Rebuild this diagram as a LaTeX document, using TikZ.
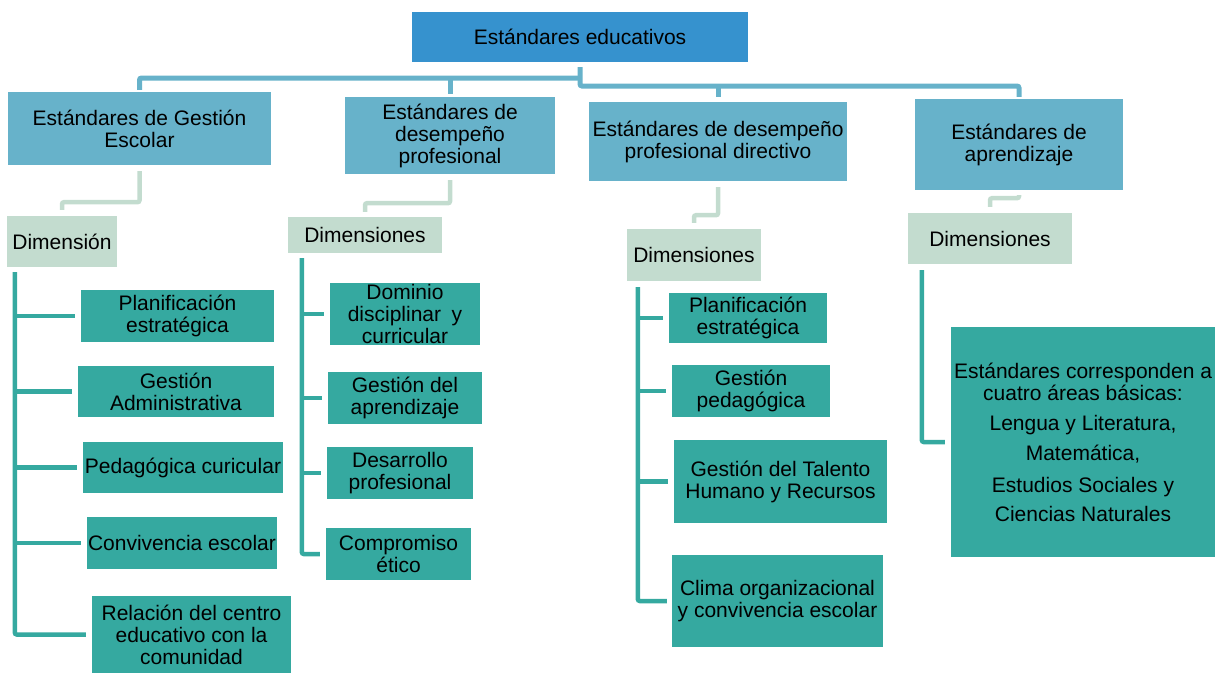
\documentclass[tikz,border=0pt]{standalone}
\usepackage{fontspec}
\setmainfont{Liberation Sans}
\usetikzlibrary{calc}
\definecolor{topblue}{RGB}{54,146,206}
\definecolor{lblue}{RGB}{103,178,202}
\definecolor{dimgreen}{RGB}{195,220,207}
\definecolor{tealc}{RGB}{53,169,160}
\begin{document}
\begin{tikzpicture}[x=1pt,y=-1pt,
  box/.style={inner sep=0pt, align=center, font=\fontsize{21}{22}\selectfont, text=black},
  wh/.style 2 args={minimum width=#1pt, minimum height=#2pt},
  topbox/.style={box, fill=topblue},
  lvlbox/.style={box, fill=lblue},
  dimbox/.style={box, fill=dimgreen},
  itembox/.style={box, fill=tealc},
  conn/.style={line width=5pt, rounded corners=2pt},
  c1/.style={conn, draw=lblue},
  c2/.style={conn, draw=dimgreen, line width=4.5pt},
  c3/.style={conn, draw=tealc, line width=4.5pt},
]
\useasboundingbox (0,0) rectangle (1217,673);

% top
\node[topbox, wh={336}{50}] (top) at (580,37) {Estándares educativos};

% level 1
\node[lvlbox, wh={263}{73}] (l1a) at (139.5,128.5) {Estándares de Gestión\\Escolar};
\node[lvlbox, wh={210}{77}] (l1b) at (450,135.5) {Estándares de\\desempeño\\profesional};
\node[lvlbox, wh={258}{79}] (l1c) at (718,141.5) {Estándares de desempeño\\profesional directivo};
\node[lvlbox, wh={208}{91}] (l1d) at (1019,144.5) {Estándares de\\aprendizaje};

% dimensions
\node[dimbox, wh={110}{51}] (dim1) at (62,241.5) {Dimensión};
\node[dimbox, wh={154}{36}] (dim2) at (365,235) {Dimensiones};
\node[dimbox, wh={134}{52}] (dim3) at (694,255) {Dimensiones};
\node[dimbox, wh={164}{51}] (dim4) at (990,238.5) {Dimensiones};

% column 1 items
\node[itembox, wh={193}{52}] (a1) at (177.5,316) {Planificación\\estratégica};
\node[itembox, wh={196}{51}] (a2) at (176,391.5) {Gestión\\Administrativa};
\node[itembox, wh={200}{51}] (a3) at (183,467.5) {Pedagógica curicular};
\node[itembox, wh={190}{52}] (a4) at (182,543) {Convivencia escolar};
\node[itembox, wh={199}{77}] (a5) at (191.5,634.5) {Relación del centro\\educativo con la\\comunidad};

% column 2 items
\node[itembox, wh={150}{62}] (b1) at (405,314) {Dominio\\disciplinar\enspace y\\curricular};
\node[itembox, wh={154}{52}] (b2) at (405,398) {Gestión del\\aprendizaje};
\node[itembox, wh={146}{52}] (b3) at (400,473) {Desarrollo\\profesional};
\node[itembox, wh={145}{52}] (b4) at (398.5,554) {Compromiso\\ético};

% column 3 items
\node[itembox, wh={158}{50}] (c1) at (748,318) {Planificación\\estratégica};
\node[itembox, wh={158}{52}] (c2) at (751,391) {Gestión\\pedagógica};
\node[itembox, wh={213}{83}] (c3) at (780.5,481.5) {Gestión del Talento\\Humano y Recursos};
\node[itembox, wh={211}{92}] (c4) at (777.5,601) {Clima organizacional\\y convivencia escolar};

% column 4
\node[itembox, wh={264}{230}] (d1) at (1083,442) {Estándares corresponden a\\cuatro áreas básicas:\\[8pt]Lengua y Literatura,\\[8pt]Matemática,\\[10pt]Estudios Sociales y\\[7pt]Ciencias Naturales};

% top connectors
\coordinate (hL) at (0,78);
\coordinate (hR) at (0,86);
\draw[c1, shorten <=5pt, shorten >=2pt] (top.south) -- (top.south |- hR) -| (l1d.north);
\draw[c1, shorten >=2pt] (top.south |- hL) -| (l1a.north);
\draw[c1, shorten >=3pt] (l1b.north |- hL) -- (l1b.north);
\draw[c1, shorten >=5pt] (l1c.north |- hR) -- (l1c.north);

% level 1 -> dimensions
\draw[c2, shorten <=6pt, shorten >=6pt] (l1a.south) -- ++(0,37) -| (dim1.north);
\draw[c2, shorten <=6pt, shorten >=5pt] (l1b.south) -- ++(0,29) -| (dim2.north);
\draw[c2, shorten <=6pt, shorten >=6pt] (l1c.south) -- ++(0,34) -| (dim3.north);
\draw[c2, shorten <=5pt, shorten >=6pt] (l1d.south) -- ++(0,8) -| (dim4.north);

% column 1 tree
\coordinate (v1) at ($(dim1.south west)+(8,5)$);
\draw[c3, shorten >=6pt] (v1) |- (a5.west);
\foreach \n in {a1,a2,a3,a4} \draw[c3, shorten >=6pt] (v1 |- \n.west) -- (\n.west);

% column 2 tree
\coordinate (v2) at ($(dim2.south west)+(14,5)$);
\draw[c3, shorten >=6pt] (v2) |- (b4.west);
\foreach \n in {b1,b2,b3} \draw[c3, shorten >=6pt] (v2 |- \n.west) -- (\n.west);

% column 3 tree
\coordinate (v3) at ($(dim3.south west)+(11,6)$);
\draw[c3, shorten >=5pt] (v3) |- (c4.west);
\foreach \n in {c1,c2,c3} \draw[c3, shorten >=6pt] (v3 |- \n.west) -- (\n.west);

% column 4 tree
\coordinate (v4) at ($(dim4.south west)+(14,6)$);
\draw[c3, shorten >=6pt] (v4) |- (d1.west);
\end{tikzpicture}
\end{document}
